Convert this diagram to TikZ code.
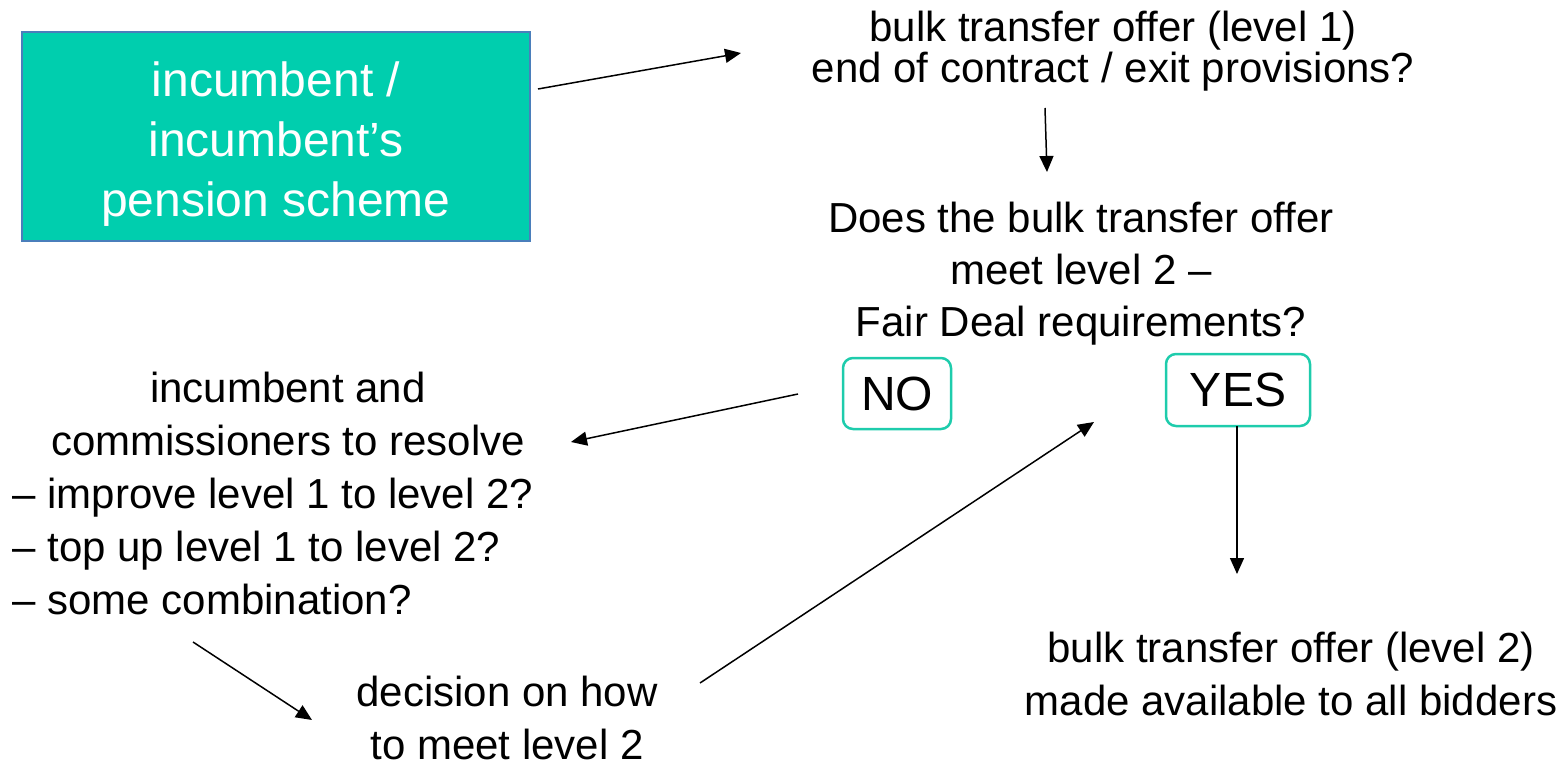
\documentclass[tikz,border=0pt]{standalone}
\usepackage{fontspec}
\setmainfont{Liberation Sans}
\usetikzlibrary{arrows.meta}

\definecolor{schemeteal}{RGB}{0,206,174}
\definecolor{schemeedge}{RGB}{74,126,187}
\definecolor{answeredge}{RGB}{30,204,172}

\begin{document}
\begin{tikzpicture}[x = .5pt, y = -.5pt,
  arr/.style = {-{Triangle[length = 8pt, width = 7pt]}, line width = .75pt},
  txt/.style = {align = center, inner sep = 0, anchor = base,
    font = \fontsize{21}{26.5}\selectfont},
  answer/.style = {draw = answeredge, line width = 1.25pt,
    rounded corners = 5pt, inner sep = 0,
    font = \fontsize{24}{28}\selectfont}]
  \useasboundingbox (0, 0) rectangle (1565, 765);

  % base anchor = baseline of the last line
  \node[fill = schemeteal, draw = schemeedge, line width = .9pt,
    minimum width = 254pt, minimum height = 104.5pt, inner sep = 0,
    align = center, text = white, font = \fontsize{24}{30}\selectfont]
  (scheme) at (276, 136.5)
  {\rule{0pt}{24.5pt}incumbent /\\incumbent’s\\pension scheme};

  \node[txt, font = \fontsize{21}{20.5}\selectfont] (offerA) at (1113, 83)
  {bulk transfer offer (level 1)\\end of contract / exit provisions?};
  \node[txt, font = \fontsize{21}{26}\selectfont] (fairdeal) at (1081, 336)
  {Does the bulk transfer offer\\meet level 2 –\\Fair Deal requirements?};

  \node[answer, minimum width = 54pt, minimum height = 35.5pt]
  (no) at (897, 393.5) {NO};
  \node[answer, minimum width = 72pt, minimum height = 36pt]
  (yes) at (1238, 390) {YES};

  \node[txt] (resolve) at (288, 455) {incumbent and\\commissioners to resolve};
  \node[txt, align = left, anchor = base west] (options) at (12, 614)
  {– improve level 1 to level 2?\\– top up level 1 to level 2?\\– some combination?};

  \node[txt] (decision) at (507, 759) {decision on how\\to meet level 2};
  \node[txt] (offerB) at (1291, 715)
  {bulk transfer offer (level 2)\\made available to all bidders};

  % arrow ends
  \coordinate (schemeOut) at (538, 89);
  \coordinate (offerAIn) at (741, 53);
  \coordinate (offerAOut) at (1045, 108);
  \coordinate (fairdealIn) at (1047, 172);
  \coordinate (noOut) at (798, 394);
  \coordinate (resolveIn) at (571, 442);
  \coordinate (optionsOut) at (193, 642);
  \coordinate (decisionIn) at (312, 720);
  \coordinate (decisionOut) at (700, 683);
  \coordinate (yesIn) at (1094, 422);
  \coordinate (yesOut) at (1237, 426);
  \coordinate (offerBIn) at (1237, 574);

  \draw[arr] (schemeOut) -- (offerAIn);
  \draw[arr] (offerAOut) -- (fairdealIn);
  \draw[arr] (noOut) -- (resolveIn);
  \draw[arr] (optionsOut) -- (decisionIn);
  \draw[arr] (decisionOut) -- (yesIn);
  \draw[arr] (yesOut) -- (offerBIn);
\end{tikzpicture}
\end{document}
